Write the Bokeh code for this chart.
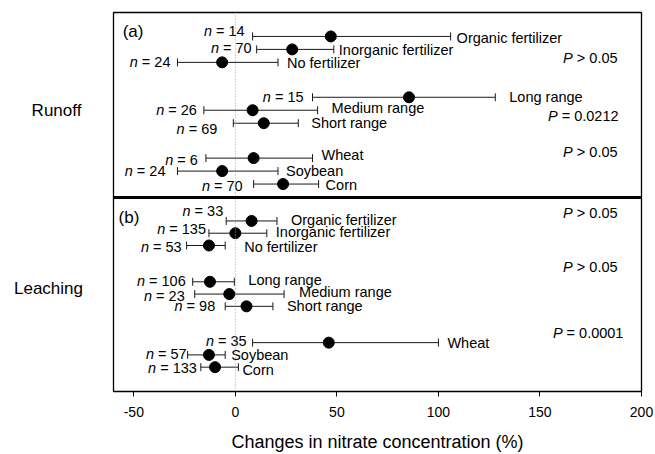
from bokeh.plotting import figure
from bokeh.models import Range1d, Span, Label, ColumnDataSource, FixedTicker
from bokeh.layouts import row
from bokeh.embed import file_html
from bokeh.resources import INLINE
from bokeh.core.properties import value

# ---------------- data ----------------
categories = ["Organic fertilizer", "Inorganic fertilizer", "No fertilizer",
              "Long range", "Medium range", "Short range",
              "Wheat", "Soybean", "Corn"]

# (a) Runoff
n_runoff = [14, 70, 24, 15, 26, 69, 6, 24, 70]
mean_runoff = [47, 28, -6.5, 85.5, 8.5, 14, 9, -6.5, 23.5]
lo_runoff = [8.5, 10.5, -28.5, 38, -15.5, -1, -14.5, -28.5, 9]
hi_runoff = [106, 48.5, 21, 128, 40.5, 31, 38, 21, 41]
p_runoff = ["> 0.05", "= 0.0212", "> 0.05"]

# (b) Leaching
n_leach = [33, 135, 53, 106, 23, 98, 35, 57, 133]
mean_leach = [8, 0, -13, -12.5, -3, 5.5, 46, -13, -10]
lo_leach = [-4.5, -13, -24, -21, -20, -5, 8.5, -23.5, -17]
hi_leach = [20.5, 15.5, -5, -0.5, 24, 18.5, 100, -5, 1.5]
p_leach = ["> 0.05", "> 0.05", "= 0.0001"]

x_ticks = [-50, 0, 50, 100, 150, 200]
x_tick_labels = ["-50", "0", "50", "100", "150", "200"]

# ---------------- layout helpers ----------------
FONT = "Liberation Sans"
FS = 14.5
WID = {' ': 0.278, '=': 0.584, '>': 0.584, '.': 0.278}


def tw(s, fs=FS):
    return sum(WID.get(c, 0.556) for c in s) * fs


def rows(base, gstep, rstep):
    return [base + (i // 3) * gstep + (i % 3) * rstep for i in range(9)]


yr = Range1d(392, 12)

p = figure(width=543, height=454, x_range=Range1d(-60, 200), y_range=yr,
           output_backend="svg", toolbar_location=None,
           min_border_left=1, min_border_right=14, min_border_top=12, min_border_bottom=62)
p.grid.visible = False
p.yaxis.visible = False
p.outline_line_color = "black"
p.outline_line_width = 1.3

p.add_layout(Span(location=0, dimension="height", line_color="#a0a0a0",
                  line_dash="1 2", line_width=1))
p.add_layout(Span(location=197.5, dimension="width", line_color="black", line_width=3))

panels = [
    dict(n=n_runoff, m=mean_runoff, lo=lo_runoff, hi=hi_runoff, y=rows(36, 61, 13),
         ndx=[-8, -5, -7, -9, -7, -16, -8, -12, -11],
         ndy=[-5, -1, 0, 0, 0, 6, 2, 0, 1.5],
         rdx=[6, 5, 9, 14, 14, 13, 9, 8, 7],
         rdy=[2, 1, 1, 0, -2, 0, -3, 0, 1],
         pv=p_runoff, px=[188.2, 188.7, 188.2], py=[58, 116, 152]),
    dict(n=n_leach, m=mean_leach, lo=lo_leach, hi=hi_leach, y=rows(221, 61, 12.3),
         ndx=[-3, -3, -5, -7, -10, -10, -6, -1, -4],
         ndy=[-10, -4, 2, -1, 2, 0, -2, -1, 1],
         rdx=[14, 9, 19, 14, 15, 14, 9, 6, 4],
         rdy=[-1, -1, 2, -2, -2, 0, 0, 0, 3],
         pv=p_leach, px=[188.2, 188.2, 191.1], py=[213, 267, 333]),
]

for d in panels:
    ys = d["y"]
    rest = ["= %d" % n for n in d["n"]]
    src = ColumnDataSource(dict(
        lo=d["lo"], hi=d["hi"], m=d["m"], y=ys,
        yt=[y - 4 for y in ys], yb=[y + 4 for y in ys],
        ny=[y + dy for y, dy in zip(ys, d["ndy"])],
        ry=[y + dy for y, dy in zip(ys, d["rdy"])],
        rest=rest, nlab=["n"] * 9, cat=categories,
        ndx=d["ndx"],
        ndx_n=[dx - tw(r) - tw(" ") for dx, r in zip(d["ndx"], rest)],
        rdx=d["rdx"],
    ))
    p.segment("lo", "y", "hi", "y", source=src, line_color="#1a1a1a", line_width=1)
    p.segment("lo", "yt", "lo", "yb", source=src, line_color="#1a1a1a", line_width=1)
    p.segment("hi", "yt", "hi", "yb", source=src, line_color="#1a1a1a", line_width=1)
    p.scatter("m", "y", source=src, size=11, color="black")
    p.text("lo", "ny", text="rest", source=src, x_offset="ndx", text_align="right",
           text_baseline="middle", text_font=value(FONT), text_font_size="14.5px", text_color="black")
    p.text("lo", "ny", text="nlab", source=src, x_offset="ndx_n", text_align="right",
           text_baseline="middle", text_font=value(FONT), text_font_size="14.5px",
           text_font_style="italic", text_color="black")
    p.text("hi", "ry", text="cat", source=src, x_offset="rdx", text_align="left",
           text_baseline="middle", text_font=value(FONT), text_font_size="14.5px", text_color="black")
    psrc = ColumnDataSource(dict(x=d["px"], y=d["py"], rest=d["pv"], plab=["P"] * 3,
                                 pdx=[-tw(s) - tw(" ") for s in d["pv"]]))
    p.text("x", "y", text="rest", source=psrc, text_align="right", text_baseline="middle",
           text_font=value(FONT), text_font_size="14.5px", text_color="black")
    p.text("x", "y", text="plab", source=psrc, x_offset="pdx", text_align="right",
           text_baseline="middle", text_font=value(FONT), text_font_size="14.5px",
           text_font_style="italic", text_color="black")

for txt, x, y in [("(a)", -55.5, 31), ("(b)", -57.5, 218)]:
    p.add_layout(Label(x=x, y=y, text=txt, text_align="left", text_baseline="middle",
                       text_font=FONT, text_font_size="17px", text_color="black"))

ax = p.xaxis[0]
ax.ticker = FixedTicker(ticks=x_ticks)
ax.major_label_overrides = {t: s for t, s in zip(x_ticks, x_tick_labels)}
ax.minor_tick_line_color = None
ax.major_tick_in = 0
ax.major_tick_out = 5
ax.axis_line_color = "black"
ax.major_tick_line_color = "black"
ax.major_label_text_font = FONT
ax.major_label_text_font_size = "14px"
ax.major_label_text_color = "black"
ax.major_label_standoff = 10
ax.axis_label = "Changes in nitrate concentration (%)"
ax.axis_label_text_font = FONT
ax.axis_label_text_font_size = "18px"
ax.axis_label_text_font_style = "normal"
ax.axis_label_text_color = "black"
ax.axis_label_standoff = 12

# left strip with the panel names
side_names = ["Runoff", "Leaching"]
side = figure(width=112, height=454, x_range=Range1d(0, 112), y_range=yr,
              output_backend="svg", toolbar_location=None,
              min_border_left=0, min_border_right=0, min_border_top=12, min_border_bottom=62)
side.axis.visible = False
side.grid.visible = False
side.outline_line_color = None
sside = ColumnDataSource(dict(x=[56, 48], y=[110, 289], t=side_names))
side.text("x", "y", text="t", source=sside, text_align="center", text_baseline="middle",
          text_font=value(FONT), text_font_size="17px", text_color="black")

layout = row(side, p)
open("out.html", "w").write(file_html(layout, INLINE))
